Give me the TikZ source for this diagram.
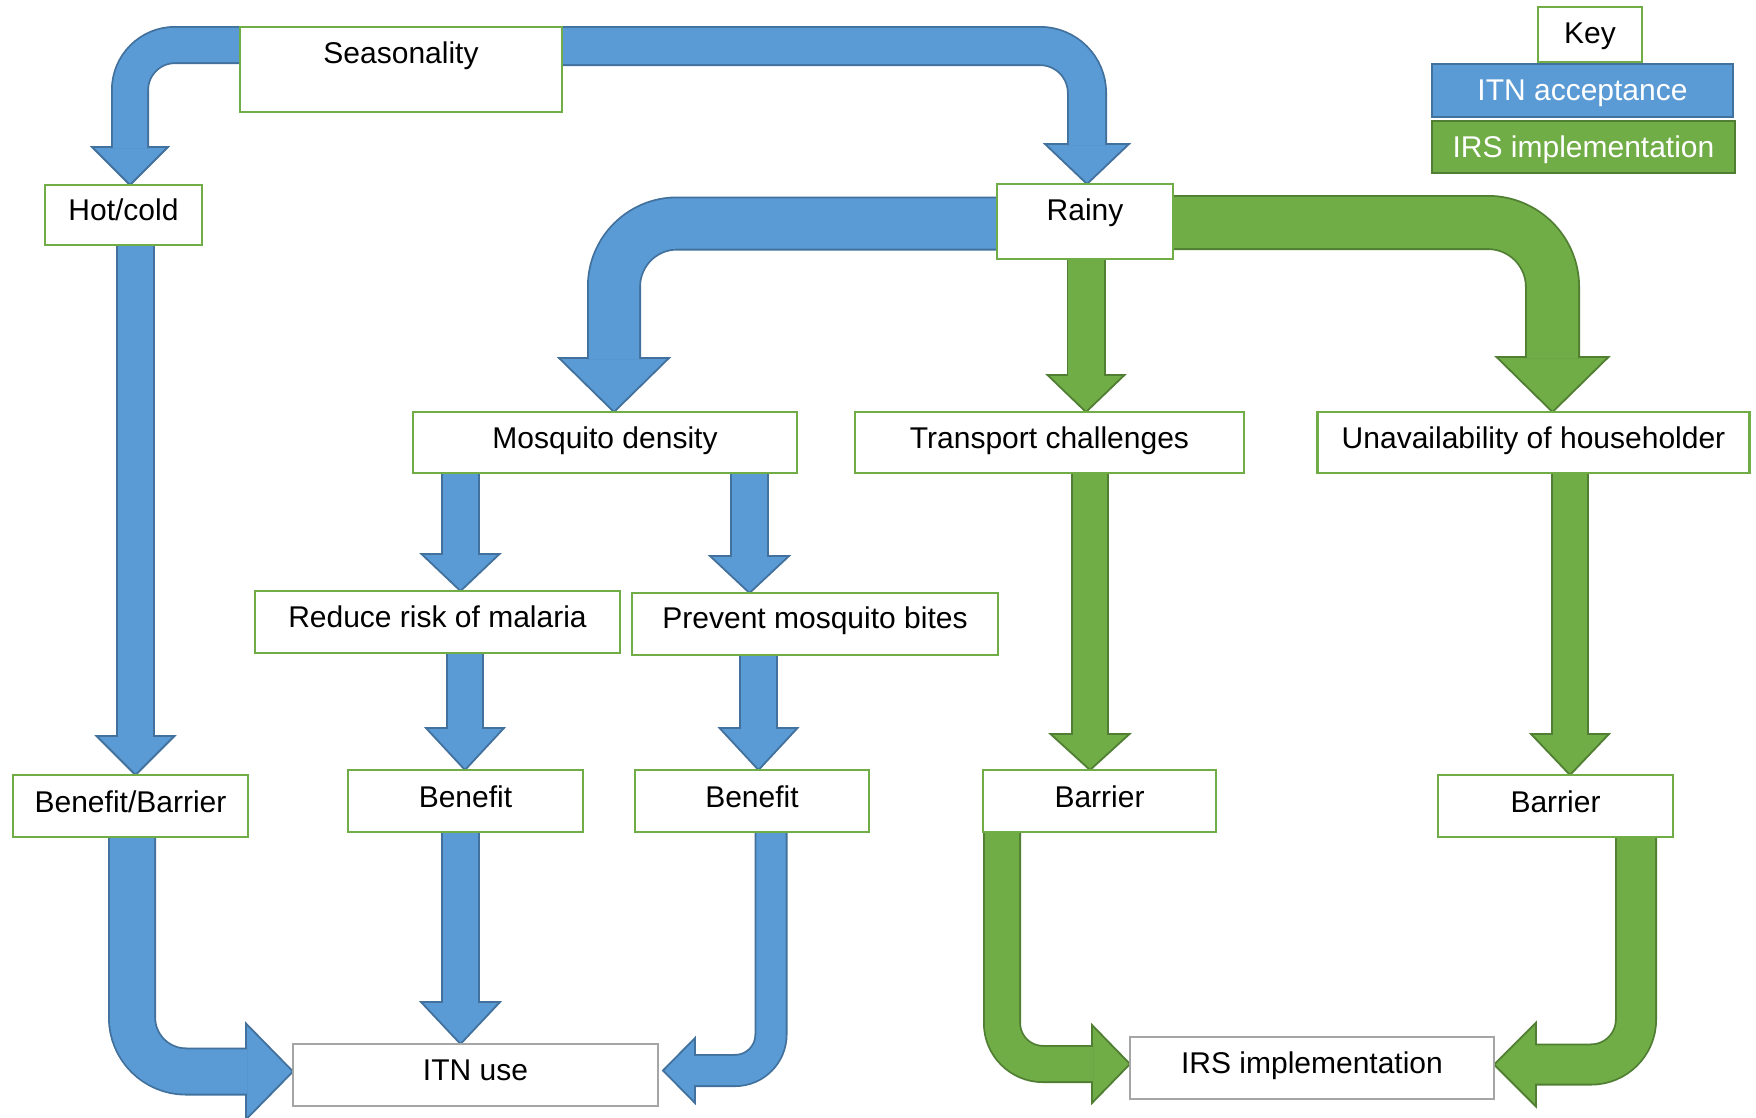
\documentclass[tikz,border=0pt]{standalone}
\usepackage{fontspec}
\setmainfont{Liberation Sans}
\definecolor{itnfill}{HTML}{5B9BD5}
\definecolor{itnedge}{HTML}{41719C}
\definecolor{irsfill}{HTML}{70AD47}
\definecolor{irsedge}{HTML}{507E32}
\definecolor{boxgreen}{HTML}{70AD47}
\definecolor{boxgrey}{HTML}{A5A5A5}
\pgfdeclarelayer{paper}
\pgfdeclarelayer{flows}
\pgfsetlayers{paper,flows,main}
% arrow head: tip at #2, pointing at angle #3, length #4, half width #5
\newcommand\blockhead[5]{\draw[#1,shift={(#2)},rotate=#3] (0,0) -- (-#4,#5) -- (-#4,-#5) -- cycle;}
\tikzset{
  every node/.style={font=\fontsize{30}{36}\selectfont, inner sep=0pt, outer sep=0pt},
  box/.style={draw=boxgreen, line width=2.7pt, fill=white, anchor=north},
  greybox/.style={draw=boxgrey, line width=2.7pt, fill=white, anchor=north},
  itnband/.style={draw=itnedge, line width=1.8pt, double=itnfill, double distance=#1},
  irsband/.style={draw=irsedge, line width=1.8pt, double=irsfill, double distance=#1},
  itnhead/.style={fill=itnfill, draw=itnedge, line width=1.8pt, line join=miter},
  irshead/.style={fill=irsfill, draw=irsedge, line width=1.8pt, line join=miter},
}
\begin{document}
\begin{tikzpicture}[x=1pt,y=-1pt]
\useasboundingbox (0,0) rectangle (1756,1117);
\begin{pgfonlayer}{paper}
  \fill[white] (0,0) rectangle (1756,1117);
\end{pgfonlayer}

% ---- boxes ----
\node[box, minimum width=322pt, text height=36pt, text depth=49pt] (seas) at (401,27) {Seasonality};
\node[box, minimum width=157pt, text height=35pt, text depth=25pt] (hot) at (123.5,185) {Hot/cold};
\node[box, minimum width=176pt, text height=36pt, text depth=39pt] (rainy) at (1085,184) {Rainy};

\node[box, minimum width=104pt, text height=36pt, text depth=19pt] (key) at (1590,7) {Key};
\node[anchor=north, draw=itnedge, fill=itnfill, line width=2.7pt, text=white,
      minimum width=301pt, text height=36pt, text depth=17pt] (keyitn) at (1582.5,64) {ITN acceptance};
\node[anchor=north, draw=irsedge, fill=irsfill, line width=2.7pt, text=white,
      minimum width=303pt, text height=36pt, text depth=16pt] (keyirs) at (1583.5,121) {IRS implementation};

\node[box, minimum width=384pt, text height=36pt, text depth=25pt] (mosq) at (605,412) {Mosquito density};
\node[box, minimum width=389pt, text height=36pt, text depth=25pt] (trans) at (1049.5,412) {Transport challenges};
\node[box, minimum width=432pt, text height=36pt, text depth=25pt] (unav) at (1533.5,412) {Unavailability of householder};

\node[box, minimum width=365pt, text height=36pt, text depth=26pt] (reduce) at (437.5,591) {Reduce risk of malaria};
\node[box, minimum width=366pt, text height=35pt, text depth=27pt] (prevent) at (815,593) {Prevent mosquito bites};

\node[box, minimum width=235pt, text height=37pt, text depth=25pt] (bb) at (130.5,775) {Benefit/Barrier};
\node[box, minimum width=235pt, text height=37pt, text depth=25pt] (ben1) at (465.5,770) {Benefit};
\node[box, minimum width=234pt, text height=37pt, text depth=25pt] (ben2) at (752,770) {Benefit};
\node[box, minimum width=233pt, text height=37pt, text depth=25pt] (bar1) at (1099.5,770) {Barrier};
\node[box, minimum width=235pt, text height=37pt, text depth=25pt] (bar2) at (1555.5,775) {Barrier};

\node[greybox, minimum width=365pt, text height=36pt, text depth=26pt] (itnuse) at (475.5,1044) {ITN use};
\node[greybox, minimum width=364pt, text height=36pt, text depth=26pt] (irsuse) at (1312,1037) {IRS implementation};

% ---- arrow tips ----
\coordinate (tA) at (130,0 |- hot.north);
\coordinate (tB) at (1087,0 |- rainy.north);
\coordinate (tC) at (614,0 |- mosq.north);
\coordinate (tD) at (1086,0 |- trans.north);
\coordinate (tE) at (1552.5,0 |- unav.north);
\coordinate (tF) at (135.5,0 |- bb.north);
\coordinate (tG) at (460.5,0 |- reduce.north);
\coordinate (tH) at (749.5,0 |- prevent.north);
\coordinate (tI) at (465,0 |- ben1.north);
\coordinate (tJ) at (758.5,0 |- ben2.north);
\coordinate (tK) at (1090,0 |- bar1.north);
\coordinate (tL) at (1570,0 |- bar2.north);
\coordinate (tM) at ([yshift=3.5pt]itnuse.west);
\coordinate (tN) at (460.5,0 |- itnuse.north);
\coordinate (tO) at ([xshift=5pt,yshift=4.5pt]itnuse.east);
\coordinate (tP) at ([yshift=4pt]irsuse.west);
\coordinate (tQ) at ([yshift=3.5pt]irsuse.east);

\begin{pgfonlayer}{flows}
  % ITN acceptance flows
  \blockhead{itnhead}{tA}{-90}{38}{38}
  \draw[itnband=34.4pt, rounded corners=45pt] ([yshift=-18pt]seas.north west) -| ([yshift=37pt]tA);
  \blockhead{itnhead}{tB}{-90}{40}{42}
  \draw[itnband=36.4pt, rounded corners=47pt] ([yshift=-19pt]seas.north east) -| ([yshift=39pt]tB);
  \blockhead{itnhead}{tC}{-90}{54}{55}
  \draw[itnband=50.4pt, rounded corners=63pt] ([yshift=-2pt]rainy.west) -| ([yshift=53pt]tC);
  \blockhead{itnhead}{tF}{-90}{39}{39}
  \draw[itnband=35.4pt] (tF |- hot.south) -- ([yshift=38pt]tF);
  \blockhead{itnhead}{tG}{-90}{37}{39}
  \draw[itnband=35.4pt] (tG |- mosq.south) -- ([yshift=36pt]tG);
  \blockhead{itnhead}{tH}{-90}{37}{39.5}
  \draw[itnband=35.4pt] (tH |- mosq.south) -- ([yshift=36pt]tH);
  \blockhead{itnhead}{tI}{-90}{42}{39}
  \draw[itnband=34.4pt] (tI |- reduce.south) -- ([yshift=41pt]tI);
  \blockhead{itnhead}{tJ}{-90}{42}{39}
  \draw[itnband=35.4pt] (tJ |- prevent.south) -- ([yshift=41pt]tJ);
  \blockhead{itnhead}{tM}{0}{47}{48}
  \draw[itnband=44.4pt, rounded corners=54pt] (132,0 |- bb.south) |- ([xshift=-46pt]tM);
  \blockhead{itnhead}{tN}{-90}{42}{39.5}
  \draw[itnband=35.4pt] (tN |- ben1.south) -- ([yshift=41pt]tN);
  \blockhead{itnhead}{tO}{180}{32}{32.5}
  \draw[itnband=29.4pt, rounded corners=36pt] (771,0 |- ben2.south) |- ([xshift=31pt]tO);

  % IRS implementation flows
  \blockhead{irshead}{tD}{-90}{37}{38.5}
  \draw[irsband=35.4pt] (tD |- rainy.south) -- ([yshift=36pt]tD);
  \blockhead{irshead}{tE}{-90}{55}{56}
  \draw[irsband=51.4pt, rounded corners=64.5pt] ([yshift=-1pt]rainy.east) -| ([yshift=54pt]tE);
  \blockhead{irshead}{tK}{-90}{36}{39.5}
  \draw[irsband=34.4pt] (tK |- trans.south) -- ([yshift=35pt]tK);
  \blockhead{irshead}{tL}{-90}{41}{39}
  \draw[irsband=34.4pt] (tL |- unav.south) -- ([yshift=40pt]tL);
  \blockhead{irshead}{tP}{0}{38}{39}
  \draw[irsband=34.4pt, rounded corners=41pt] (1002,0 |- bar1.south) |- ([xshift=-37pt]tP);
  \blockhead{irshead}{tQ}{180}{42}{42}
  \draw[irsband=38.4pt, rounded corners=45pt] (1636,0 |- bar2.south) |- ([xshift=41pt]tQ);
\end{pgfonlayer}
\end{tikzpicture}
\end{document}
